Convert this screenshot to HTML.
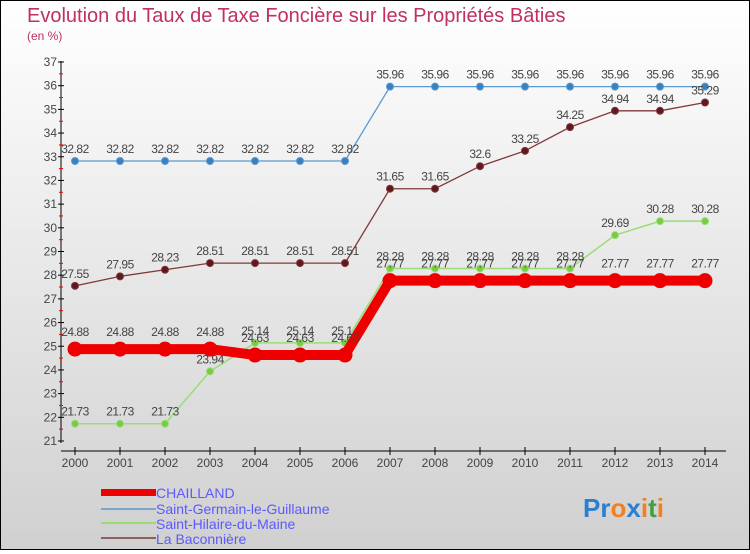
<!DOCTYPE html>
<html><head><meta charset="utf-8"><style>
html,body{margin:0;padding:0}
body{width:750px;height:550px;overflow:hidden;font-family:"Liberation Sans",sans-serif}
#wrap{position:relative;width:748px;height:548px;border:1px solid #000;background:linear-gradient(#fff 0%,#ececec 40%,#d0d0d0 100%)}
svg text{font-family:"Liberation Sans",sans-serif}
</style></head><body>
<div id="wrap">
<svg id="chart" width="748" height="548">
<text x="26" y="21" font-size="20" fill="#c03060">Evolution du Taux de Taxe Foncière sur les Propriétés Bâties</text>
<text x="26" y="39" font-size="12" fill="#c03060">(en %)</text>
<g id="axes"></g><g id="series"></g>
<g>
<rect x="100" y="488" width="55" height="7" fill="#e00"/>
<text x="155" y="497" font-size="14" fill="#5a5aff">CHAILLAND</text>
<rect x="100" y="507" width="55" height="2" fill="#7aa8cc"/>
<text x="155" y="513" font-size="14" fill="#5a5aff">Saint-Germain-le-Guillaume</text>
<rect x="100" y="521" width="55" height="2" fill="#99dd77"/>
<text x="155" y="528" font-size="14" fill="#5a5aff">Saint-Hilaire-du-Maine</text>
<rect x="100" y="536" width="55" height="2" fill="#8a6060"/>
<text x="155" y="543" font-size="14" fill="#5a5aff">La Baconnière</text>
</g>
<text x="582" y="516" font-size="26" font-weight="bold"><tspan fill="#2a7fd0">Pr</tspan><tspan fill="#f08020">o</tspan><tspan fill="#2a7fd0">x</tspan><tspan fill="#f08020">i</tspan><tspan fill="#40a040">t</tspan><tspan fill="#f08020">i</tspan></text>
</svg></div>
<script>
const years=[2000,2001,2002,2003,2004,2005,2006,2007,2008,2009,2010,2011,2012,2013,2014];
const yTicks=[21,22,23,24,25,26,27,28,29,30,31,32,33,34,35,36,37];
const chailland=[24.88,24.88,24.88,24.88,24.63,24.63,24.63,27.77,27.77,27.77,27.77,27.77,27.77,27.77,27.77];
const saintGermain=[32.82,32.82,32.82,32.82,32.82,32.82,32.82,35.96,35.96,35.96,35.96,35.96,35.96,35.96,35.96];
const saintHilaire=[21.73,21.73,21.73,23.94,25.14,25.14,25.14,28.28,28.28,28.28,28.28,28.28,29.69,30.28,30.28];
const laBaconniere=[27.55,27.95,28.23,28.51,28.51,28.51,28.51,31.65,31.65,32.6,33.25,34.25,34.94,34.94,35.29];
const NS='http://www.w3.org/2000/svg';
const xS=i=>74+i*45;
const yS=v=>440-(v-21)*(379/16);
function mk(t,a,p){const e=document.createElementNS(NS,t);for(const k in a)e.setAttribute(k,a[k]);p.appendChild(e);return e;}
const ax=document.getElementById('axes');
const ya=mk('line',{x1:60,y1:60,x2:60,y2:442,stroke:'#000','stroke-width':1},ax);


const xa=mk('line',{x1:60,y1:450,x2:725,y2:450,stroke:'#000','stroke-width':1},ax);


yTicks.forEach(v=>{
  mk('line',{x1:57,y1:yS(v),x2:63,y2:yS(v),stroke:'#000'},ax);
  if(v<37)mk('line',{x1:58,y1:yS(v+0.5),x2:62,y2:yS(v+0.5),stroke:'#e00'},ax);
  const t=mk('text',{x:56,y:yS(v)+4,'font-size':12,fill:'#444','text-anchor':'end'},ax);
  t.textContent=v;
  
  
});
years.forEach((y,i)=>{
  mk('line',{x1:xS(i),y1:446,x2:xS(i),y2:454,stroke:'#000'},ax);
  const t=mk('text',{x:xS(i),y:466,'font-size':12,fill:'#444','text-anchor':'middle'},ax);
  t.textContent=y;
  
  
});
const sg=document.getElementById('series');
function series(vals,name,color,dot,w,r,labelDy){
  const g=mk('g',{},sg);
  
  
  const pl=mk('polyline',{points:vals.map((v,i)=>xS(i)+','+yS(v)).join(' '),fill:'none',stroke:color,'stroke-width':w},g);
  
  
  vals.forEach((v,i)=>{
    const c=mk('circle',{cx:xS(i),cy:yS(v),r:r,fill:dot,stroke:color,'stroke-width':1},g);
    
    
    const t=mk('text',{x:xS(i),y:yS(v)+labelDy,'font-size':12,fill:'#444','text-anchor':'middle','letter-spacing':'-0.5'},g);
    t.textContent=v;
    
    
  });
}
series(saintGermain,'saint-germain','#5a9ad0','#3a80c0',1.3,3.5,-8);
series(laBaconniere,'la-baconniere','#803838','#601820',1.3,3.5,-8);
series(saintHilaire,'saint-hilaire','#99dd77','#77cc44',1.5,3.5,-8);
series(chailland,'chailland','#ee0000','#ee0000',10,7,-13);
</script>
</body></html>
